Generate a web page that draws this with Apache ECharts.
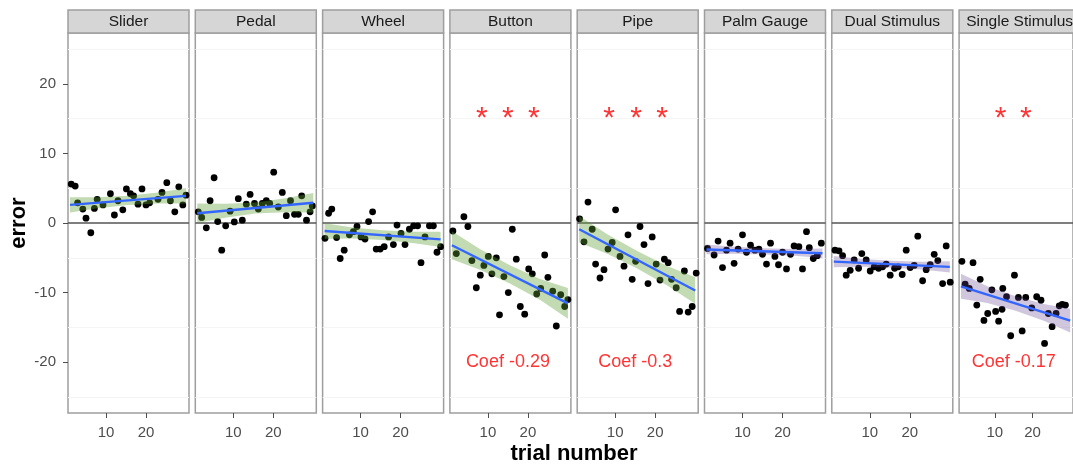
<!DOCTYPE html>
<html><head><meta charset="utf-8">
<script src="https://cdn.jsdelivr.net/npm/echarts@6/dist/echarts.min.js"></script>
<style>html,body{margin:0;padding:0;background:#fff}#c{width:1073px;height:466px}</style>
</head><body><div id="c"></div><script>
// ---------- data ----------
const panels = ['Slider','Pedal','Wheel','Button','Pipe','Palm Gauge','Dual Stimulus','Single Stimulus'];

const sliderPts = [[1.3,5.6],[2.3,5.3],[2.9,2.9],[4.2,2.0],[5,0.7],[6.2,-1.4],[7.1,2.1],[7.8,3.4],[9.25,2.6],[11.1,4.2],[12.1,1.15],[13,3.2],[14.2,1.9],[15.1,4.9],[16.1,4.2],[16.9,3.9],[18,2.7],[19,4.9],[20,2.6],[20.9,2.9],[23,3.4],[24,4.4],[25.2,5.8],[26.1,3.2],[27.2,1.6],[28.2,5.2],[29.2,2.6],[30,4.0]];
const pedalPts = [[1.25,1.6],[2.1,0.8],[3.25,-0.7],[4.2,3.2],[5.2,6.5],[6.1,0.2],[7.1,-3.9],[8.1,-0.4],[9.2,1.7],[10.25,0.15],[11.25,3.5],[12.25,0.4],[13.25,2.7],[14.2,4.1],[15.3,2.8],[16.25,2.0],[17.25,2.8],[18.25,3.2],[19.1,2.8],[20.1,7.3],[21.25,2.3],[22.25,4.4],[23.25,1.05],[24.3,3.2],[25.3,1.25],[26.25,1.25],[27.1,3.9],[28.3,0.4],[29.2,1.6],[29.75,2.45]];
const wheelPts = [[1.1,-2.2],[2,1.4],[2.8,2.0],[4,-2.1],[4.9,-5.1],[5.9,-3.9],[7.2,-1.7],[8.2,-1.25],[9.1,-0.5],[10.1,-2.0],[11.1,-2.3],[12,0.2],[13,1.6],[13.9,-3.75],[14.9,-3.75],[15.9,-3.4],[17,-2.0],[18.2,-3.1],[19.1,-0.3],[20.1,-1.5],[21.1,-3.1],[22.2,-0.9],[23.25,-0.4],[24.25,-0.4],[25.1,-5.7],[26.1,-2.0],[27.2,-0.4],[28.2,-0.4],[29.1,-4.2],[30,-3.4]];
const buttonPts = [[1.25,-1.15],[2.1,-4.4],[4,0.9],[5,-0.5],[6,-5.4],[7.1,-9.3],[8.1,-7.5],[9,-6.1],[10.1,-4.8],[11,-7.3],[12.1,-5.0],[12.9,-13.2],[14,-7.7],[15.1,-10.0],[16.1,-0.9],[17.1,-5.2],[18.1,-12.0],[19.2,-13.1],[20.2,-6.6],[21.1,-7.3],[22.2,-10.2],[23.2,-9.4],[24.2,-4.6],[25,-7.8],[26.2,-9.8],[27.1,-14.8],[28.2,-10.3],[29.2,-12.0],[30,-11.0]];
const pipePts = [[1.1,0.6],[2.2,-2.7],[3.2,3.0],[4.25,-0.9],[5.1,-5.9],[6.2,-7.9],[7.2,-6.7],[8.2,-3.75],[9.25,-2.8],[10.1,1.9],[11.2,-4.8],[12.2,-6.2],[13.2,-1.7],[14.25,-8.1],[15.1,-5.5],[16.2,-0.5],[17.2,-3.1],[18.2,-8.7],[19.25,-2.0],[20.25,-5.9],[21.2,-8.2],[22.3,-5.2],[23.25,-5.7],[24.1,-8.1],[25.25,-9.3],[26.1,-12.7],[27.3,-6.9],[28.25,-12.8],[29.25,-12.0],[30.25,-7.2]];
const palmPts = [[1.25,-3.65],[2.9,-4.6],[3.9,-2.6],[5,-6.4],[6,-3.9],[6.9,-2.9],[7.9,-5.8],[8.9,-3.75],[10,-1.7],[11,-4.2],[12,-3.2],[13.1,-3.9],[14.1,-3.75],[15,-4.5],[16,-5.9],[17,-2.9],[18.1,-4.8],[19,-6.0],[20,-4.2],[21,-6.6],[22,-4.5],[22.9,-3.3],[24.1,-3.4],[25,-6.6],[26,-1.25],[26.7,-3.55],[27.7,-5.1],[28.7,-4.7],[29.7,-2.9]];
const dualPts = [[1.3,-3.9],[2.3,-4.0],[3.2,-4.7],[4.1,-7.5],[5.1,-6.8],[6.1,-5.3],[7.2,-6.5],[8,-4.4],[9.1,-5.3],[10.1,-6.9],[11.1,-6.3],[12.2,-6.5],[13.2,-6.3],[14.1,-5.9],[15.1,-7.5],[16.2,-6.5],[17.1,-6.3],[18.1,-7.4],[19.1,-3.9],[20.1,-6.4],[21.1,-6.1],[22,-1.9],[23.2,-8.3],[24.1,-6.7],[25.1,-6.0],[26.1,-4.5],[27,-5.4],[28.2,-8.7],[29.1,-3.3],[30.1,-8.5]];
const singlePts = [[1.25,-5.5],[2.1,-8.8],[3.2,-9.4],[4.2,-5.7],[5.2,-11.8],[6.1,-8.1],[7.1,-14.0],[8.1,-13.0],[9.2,-9.6],[10.2,-12.7],[11,-14.1],[11.9,-12.4],[12.1,-9.4],[13.1,-10.6],[14.2,-16.2],[15.2,-7.5],[16.25,-10.7],[17.25,-15.5],[18.2,-10.7],[19.8,-12.2],[21.1,-10.6],[22.25,-11.1],[23.2,-17.3],[24.2,-13.0],[25.2,-14.9],[26.25,-13.0],[27.1,-11.9],[27.9,-11.7],[28.75,-11.8]];
const allPts = [sliderPts, pedalPts, wheelPts, buttonPts, pipePts, palmPts, dualPts, singlePts];

// fitted line end points [x, y]
const fitStart = [[1,2.6],[1,1.4],[1,-1.15],[1,-3.2],[1,-0.9],[1,-3.8],[1,-5.55],[1,-9.1]];
const fitEnd   = [[30,3.9],[30,2.9],[30,-2.35],[30,-11.55],[30,-9.7],[30,-4.35],[30,-6.3],[30,-14.03]];

// confidence band, read at these trial numbers
const bandX = [1, 8, 15.5, 23, 30];
const bandUpper = [
  [3.7, 3.71, 3.9, 4.39, 5.0],
  [2.8, 2.76, 2.95, 3.54, 4.3],
  [-0.05, -0.64, -1.05, -1.26, -1.25],
  [-1.2, -3.72, -6.08, -8.04, -9.35],
  [1.0, -1.62, -4.04, -6.17, -7.8],
  [-3.1, -3.43, -3.63, -3.72, -3.65],
  [-4.75, -5.18, -5.44, -5.57, -5.5],
  [-7.3, -9.09, -10.52, -11.64, -12.33]
];
const bandLower = [
  [1.5, 2.11, 2.6, 2.79, 2.8],
  [0.0, 0.76, 1.35, 1.54, 1.5],
  [-2.25, -2.24, -2.45, -2.86, -3.45],
  [-5.2, -6.72, -8.68, -11.04, -13.75],
  [-2.8, -4.42, -6.54, -8.97, -11.6],
  [-4.5, -4.43, -4.53, -4.72, -5.05],
  [-6.35, -6.28, -6.44, -6.67, -7.1],
  [-10.9, -11.49, -12.62, -14.04, -15.73]
];

// significance stars and coefficient labels
const starX = [[], [], [], [8.5, 15, 21.5], [8.5, 15.25, 21.75], [], [], [11.5, 18.25]];
const starY = 15;
const coefLabels = ['', '', '', 'Coef -0.29', 'Coef -0.3', '', '', 'Coef -0.17'];
const coefPos = [15, -20];

const yTicks = [-20, -10, 0, 10, 20];
const xTicks = [10, 20];
const faintY = [-25, -15, -5, 5, 15, 25];

// ---------- layout / style ----------
const L0 = 68, STEP = 127.3, W = 121, TOP = 33, H = 380;
const bandFill = i => i < 5 ? 'rgba(95,160,55,0.38)' : 'rgba(100,70,150,0.3)';
const FONT = 'Liberation Sans, Arial, sans-serif';

const grids = [], xAxes = [], yAxes = [], series = [], graphics = [];
panels.forEach((name, i) => {
  const left = L0 + STEP * i;
  grids.push({left: left, top: TOP, width: W, height: H, show: true,
    backgroundColor: '#fff', borderColor: '#9e9e9e', borderWidth: 1.5});
  xAxes.push({type: 'value', gridIndex: i, min: 0.5, max: 30.75, position: 'bottom',
    axisLine: {show: false, onZero: false}, splitLine: {show: false},
    axisTick: {show: true, customValues: xTicks, length: 5, lineStyle: {color: '#4d4d4d', width: 1}},
    axisLabel: {show: true, customValues: xTicks, color: '#4d4d4d', fontSize: 15, fontFamily: FONT, margin: 12}});
  yAxes.push({type: 'value', gridIndex: i, min: -27.3, max: 27.3, position: 'left',
    axisLine: {show: false, onZero: false}, splitLine: {show: false},
    axisTick: {show: i === 0, customValues: yTicks, length: 5, lineStyle: {color: '#4d4d4d', width: 1}},
    axisLabel: {show: i === 0, customValues: yTicks, color: '#4d4d4d', fontSize: 15, fontFamily: FONT, margin: 12},
    name: i === 0 ? 'error' : '', nameLocation: 'middle', nameGap: 36, nameRotate: 90,
    nameTextStyle: {fontSize: 22, fontWeight: 'bold', color: '#000', fontFamily: FONT}});

  // points
  series.push({type: 'scatter', xAxisIndex: i, yAxisIndex: i, data: allPts[i],
    symbolSize: 6.8, itemStyle: {color: '#000', opacity: 1}, z: 3, silent: true});
  // band (drawn over points, translucent)
  series.push({type: 'custom', xAxisIndex: i, yAxisIndex: i, z: 4, silent: true, clip: true,
    data: [[bandX[2], bandUpper[i][2]]],
    renderItem: (params, api) => {
      const up = bandX.map((x, k) => api.coord([x, bandUpper[i][k]]));
      const lo = bandX.map((x, k) => api.coord([x, bandLower[i][k]])).reverse();
      return {type: 'polygon', shape: {points: up.concat(lo)}, style: {fill: bandFill(i), stroke: null}};
    }});
  // fitted line + reference lines
  series.push({type: 'line', xAxisIndex: i, yAxisIndex: i, data: [fitStart[i], fitEnd[i]],
    symbol: 'none', lineStyle: {color: '#3366ff', width: 2.4}, z: 5, silent: true,
    markLine: {silent: true, symbol: 'none', label: {show: false}, z: 1,
      data: faintY.map(v => ({yAxis: v, lineStyle: {color: '#f5f5f5', width: 1, type: 'solid'}}))
        .concat([{yAxis: 0, lineStyle: {color: '#555', width: 1.6, type: 'solid'}}])}});
  // stars
  if (starX[i].length) {
    series.push({type: 'scatter', xAxisIndex: i, yAxisIndex: i, z: 6, silent: true,
      data: starX[i].map(x => [x, starY]), symbolSize: 0.1, itemStyle: {color: 'rgba(0,0,0,0)'},
      label: {show: true, position: 'inside', formatter: '*', color: '#ff0000', fontSize: 30, fontFamily: FONT}});
  }
  if (coefLabels[i]) {
    series.push({type: 'scatter', xAxisIndex: i, yAxisIndex: i, z: 6, silent: true,
      data: [coefPos], symbolSize: 0.1, itemStyle: {color: 'rgba(0,0,0,0)'},
      label: {show: true, position: 'inside', formatter: coefLabels[i], color: '#ff0000', fontSize: 18, fontFamily: FONT}});
  }
  // strip header
  graphics.push({type: 'rect', shape: {x: left, y: 10, width: W, height: 23},
    style: {fill: '#d6d6d6', stroke: '#9e9e9e', lineWidth: 1.5}, z: 10});
  graphics.push({type: 'text', x: left + W / 2, y: 22, z: 11,
    style: {text: name, align: 'center', verticalAlign: 'middle', fontSize: 15.5, fill: '#1a1a1a', fontFamily: FONT}});
});
graphics.push({type: 'text', x: 574, y: 454, z: 11,
  style: {text: 'trial number', align: 'center', verticalAlign: 'middle', fontSize: 22, fontWeight: 'bold', fill: '#000', fontFamily: FONT}});

const chart = echarts.init(document.getElementById('c'), null, {renderer: 'canvas'});
chart.setOption({
  backgroundColor: '#fff',
  animation: false,
  grid: grids, xAxis: xAxes, yAxis: yAxes, series: series, graphic: graphics
});
</script></body></html>
